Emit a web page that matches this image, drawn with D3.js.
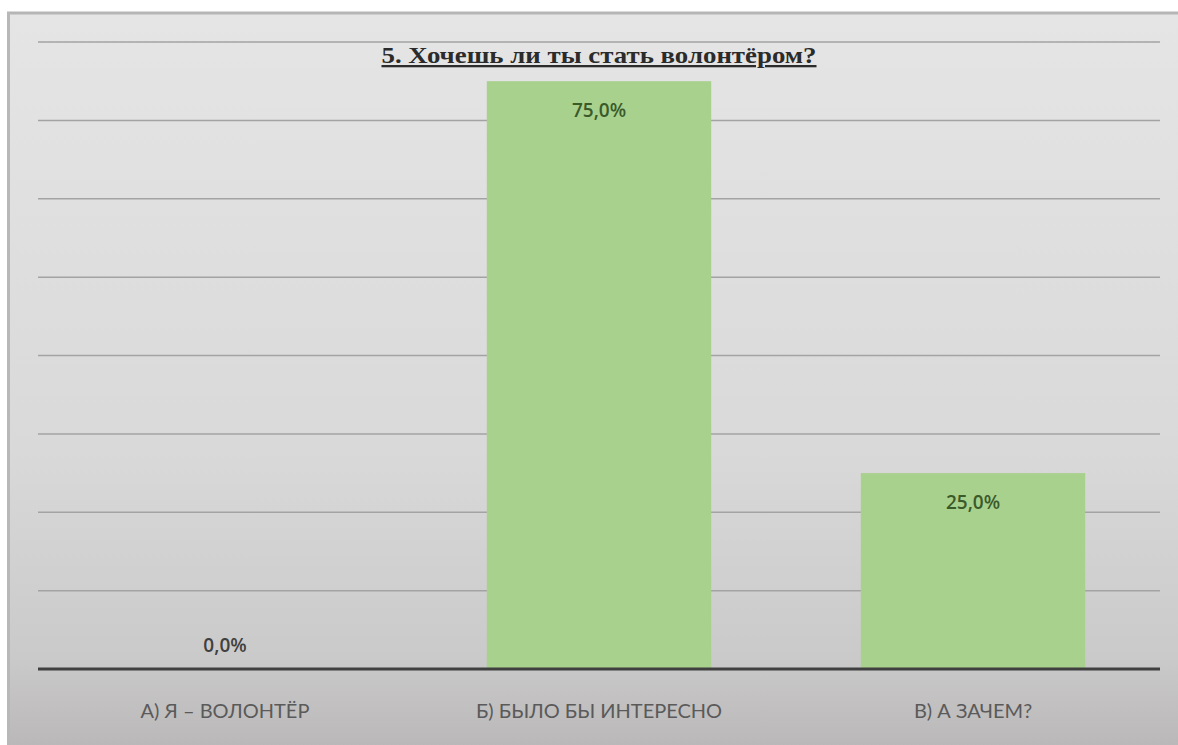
<!DOCTYPE html>
<html>
<head>
<meta charset="utf-8">
<script src="https://cdn.jsdelivr.net/npm/d3@7"></script>
<style>
  body { margin: 0; background: #ffffff; }
</style>
</head>
<body>
<script>
// chart data
var categories = ["А) Я – ВОЛОНТЁР", "Б) БЫЛО БЫ ИНТЕРЕСНО", "В) А ЗАЧЕМ?"];
var values = [0, 75, 25];
var labels = ["0,0%", "75,0%", "25,0%"];
var gridTicks = [10, 20, 30, 40, 50, 60, 70, 80];
var title = "5. Хочешь ли ты стать волонтёром?";

var w = 1178, h = 745;
var margin = {left: 38, right: 18, top: 42, bottom: 76};

var svg = d3.select("body").append("svg")
    .attr("width", w)
    .attr("height", h);

var defs = svg.append("defs");
var grad = defs.append("linearGradient")
    .attr("id", "bg")
    .attr("x1", 0).attr("y1", 0).attr("x2", 0).attr("y2", 1);
grad.append("stop").attr("offset", "0%").attr("stop-color", "#e5e5e5");
grad.append("stop").attr("offset", "60%").attr("stop-color", "#d9d9d9");
grad.append("stop").attr("offset", "88%").attr("stop-color", "#cbcaca");
grad.append("stop").attr("offset", "100%").attr("stop-color", "#bab8b8");

// chart area background
svg.append("rect")
    .attr("x", 7).attr("y", 12)
    .attr("width", w - 7).attr("height", h - 12)
    .style("fill", "url(#bg)");
// border
svg.append("line")
    .attr("x1", 7).attr("x2", w).attr("y1", 13).attr("y2", 13)
    .style("stroke", "#b5b5b5").style("stroke-width", 3);
svg.append("line")
    .attr("x1", 8.5).attr("x2", 8.5).attr("y1", 12).attr("y2", h)
    .style("stroke", "#b8b8b8").style("stroke-width", 3);

var x = d3.scaleBand()
    .domain(categories)
    .range([margin.left, w - margin.right])
    .paddingInner(0.4)
    .paddingOuter(0.2);

var y = d3.scaleLinear()
    .domain([0, 80])
    .range([h - margin.bottom, margin.top]);

// gridlines
svg.append("g")
    .selectAll("line")
    .data(gridTicks)
    .enter().append("line")
    .attr("x1", margin.left)
    .attr("x2", w - margin.right)
    .attr("y1", d => y(d))
    .attr("y2", d => y(d))
    .style("stroke", "#a3a3a3")
    .style("stroke-width", 1.5);

// bars
svg.append("g")
    .selectAll("rect")
    .data(values)
    .enter().append("rect")
    .attr("x", (d, i) => x(categories[i]))
    .attr("y", d => y(d))
    .attr("width", x.bandwidth())
    .attr("height", d => y(0) - y(d))
    .style("fill", "#a9d18e");

// baseline axis
var xAxis = d3.axisBottom(x).tickSize(0).tickPadding(35);
var gx = svg.append("g")
    .attr("transform", "translate(0," + y(0) + ")")
    .call(xAxis);
gx.select(".domain")
    .attr("d", "M" + margin.left + ",0H" + (w - margin.right))
    .style("stroke", "#3f3f3f")
    .style("stroke-width", 3);
gx.selectAll("text")
    .style("font-family", "Lato, 'Open Sans', sans-serif")
    .style("font-size", "20px")
    .style("fill", "#5a5a5a");

// data labels
svg.append("g")
    .selectAll("text")
    .data(values)
    .enter().append("text")
    .attr("x", (d, i) => x(categories[i]) + x.bandwidth() / 2)
    .attr("y", d => d > 0 ? y(d) + 36 : y(0) - 17)
    .attr("text-anchor", "middle")
    .style("font-family", "'Open Sans', sans-serif")
    .style("font-size", "19px")
    .style("font-weight", "600")
    .style("fill", d => d > 0 ? "#3b5a2a" : "#404040")
    .text((d, i) => labels[i]);

// title
svg.append("text")
    .attr("x", x(categories[1]) + x.bandwidth() / 2)
    .attr("y", 63)
    .attr("text-anchor", "middle")
    .attr("textLength", 435)
    .attr("lengthAdjust", "spacingAndGlyphs")
    .style("font-family", "'Liberation Serif', 'DejaVu Serif', serif")
    .style("font-size", "23px")
    .style("font-weight", "bold")
    .style("text-decoration", "underline")
    .style("fill", "#2b2b2b")
    .text(title);
</script>
</body>
</html>
